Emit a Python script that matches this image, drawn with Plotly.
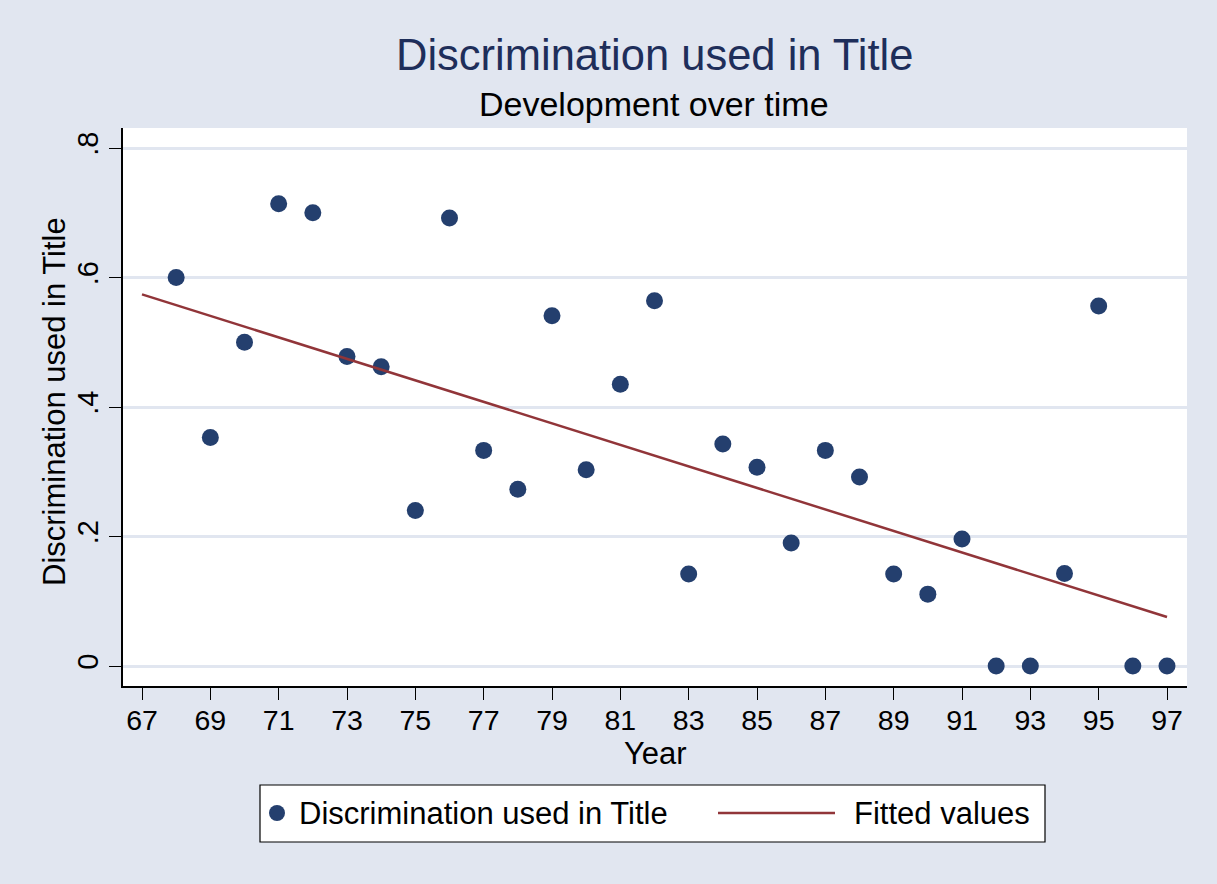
import plotly.graph_objects as go

# ---- data ----
years = list(range(68, 98))
share = [0.600, 0.353, 0.500, 0.714, 0.700, 0.478, 0.462, 0.240, 0.692, 0.333,
         0.273, 0.541, 0.303, 0.435, 0.564, 0.142, 0.343, 0.307, 0.190, 0.333,
         0.292, 0.142, 0.111, 0.196, 0.000, 0.000, 0.143, 0.556, 0.000, 0.000]
fit_years = [67, 97]
fit_values = [0.574, 0.0757]
x_ticks = list(range(67, 98, 2))
y_ticks = [0, 0.2, 0.4, 0.6, 0.8]
y_ticktext = ["0", ".2", ".4", ".6", ".8"]

W, H = 1217, 884
L, R, T, B = 123, 1187, 128, 686
FONT = "Liberation Sans, Arial, Helvetica, sans-serif"
BG = "#E1E6F0"
NAVY = "#243F6E"
MAROON = "#913539"


def px(xp):
    return (xp - L) / (R - L)


def py(yp):
    return (B - yp) / (B - T)


fig = go.Figure()
fig.add_trace(go.Scatter(x=years, y=share, mode="markers", name="Discrimination used in Title",
                         marker=dict(size=17, color=NAVY), showlegend=False))
fig.add_trace(go.Scatter(x=fit_years, y=fit_values, mode="lines", name="Fitted values",
                         line=dict(color=MAROON, width=2.5), showlegend=False))

annotations = [
    dict(text="Discrimination used in Title", x=px(654), y=py(55), xref="paper", yref="paper",
         showarrow=False, xanchor="center", yanchor="middle",
         font=dict(family=FONT, size=43.5, color="#1E2E5A")),
    dict(text="Development over time", x=px(654), y=py(104), xref="paper", yref="paper",
         showarrow=False, xanchor="center", yanchor="middle",
         font=dict(family=FONT, size=34, color="black")),
    dict(text="Year", x=px(655), y=py(753), xref="paper", yref="paper",
         showarrow=False, xanchor="center", yanchor="middle",
         font=dict(family=FONT, size=31, color="black")),
    dict(text="Discrimination used in Title", x=px(54), y=py(402), xref="paper", yref="paper",
         showarrow=False, xanchor="center", yanchor="middle", textangle=-90,
         font=dict(family=FONT, size=31, color="black")),
    dict(text="Discrimination used in Title", x=px(297), y=py(813), xref="paper", yref="paper",
         showarrow=False, xanchor="left", yanchor="middle",
         font=dict(family=FONT, size=31, color="black")),
    dict(text="Fitted values", x=px(852), y=py(813), xref="paper", yref="paper",
         showarrow=False, xanchor="left", yanchor="middle",
         font=dict(family=FONT, size=31, color="black")),
]

shapes = [
    dict(type="rect", xref="paper", yref="paper", x0=px(260), x1=px(1045), y0=py(842), y1=py(785),
         line=dict(color="black", width=1.2), fillcolor="white", layer="below"),
    dict(type="circle", xref="paper", yref="paper", x0=px(269), x1=px(285), y0=py(821), y1=py(805),
         line=dict(color=NAVY, width=0), fillcolor=NAVY),
    dict(type="line", xref="paper", yref="paper", x0=px(718), x1=px(835), y0=py(813), y1=py(813),
         line=dict(color=MAROON, width=2.5)),
]

fig.update_layout(
    width=W, height=H,
    margin=dict(l=L, r=W - R, t=T, b=H - B, pad=0),
    paper_bgcolor=BG, plot_bgcolor="white",
    font=dict(family=FONT, color="black"),
    annotations=annotations, shapes=shapes, showlegend=False,
)
fig.update_xaxes(range=[67 - 19 / 34.17, 97 + 20 / 34.17], tickvals=x_ticks,
                 ticks="outside", ticklen=12, tickwidth=1.2, tickcolor="black",
                 ticklabelstandoff=-4,
                 showline=True, linecolor="black", linewidth=1.5, showgrid=False, zeroline=False,
                 tickfont=dict(family=FONT, size=28.5, color="black"))
fig.update_yaxes(range=[-20 / 647.5, 0.8 + 20 / 647.5], tickvals=y_ticks, ticktext=y_ticktext,
                 tickangle=-90, ticks="outside", ticklen=12, tickwidth=1.2, tickcolor="black",
                 showline=True, linecolor="black", linewidth=1.5,
                 showgrid=True, gridcolor="#E1E6F0", gridwidth=2.5, zeroline=False,
                 tickfont=dict(family=FONT, size=29, color="black"))

fig.write_html("out.html", config={"displayModeBar": False},
               post_script="document.body.style.margin='0';document.body.style.overflow='hidden';"
                           "document.body.style.background='" + BG + "';")
